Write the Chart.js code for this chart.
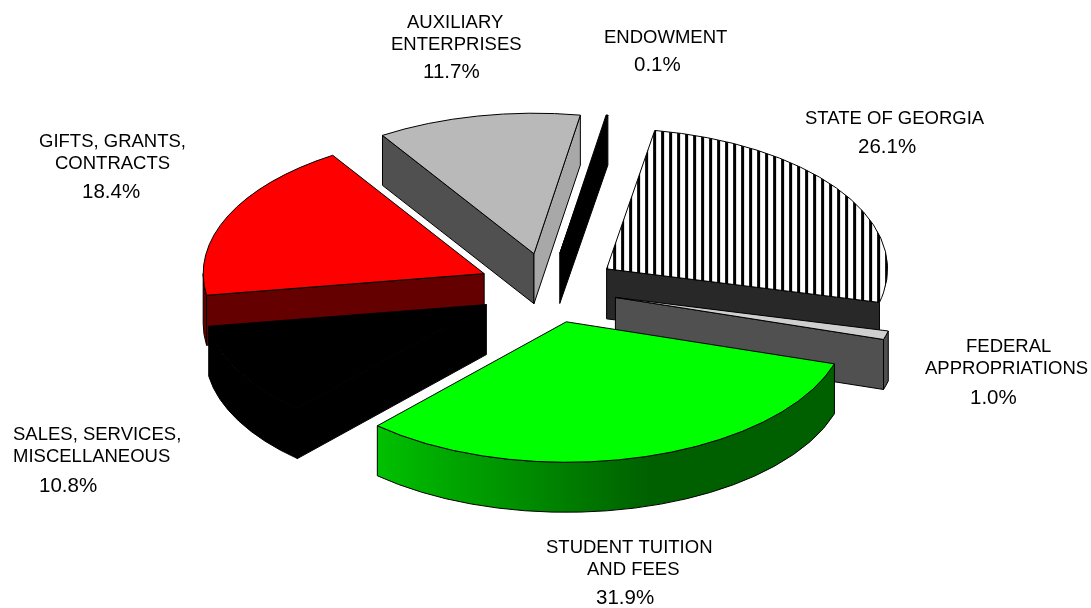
<!DOCTYPE html>
<html>
<head>
<meta charset="utf-8">
<style>
  html, body { margin: 0; padding: 0; background: #fff; }
  #wrap { position: relative; width: 1091px; height: 608px; }
</style>
<script src="https://cdn.jsdelivr.net/npm/chart.js@4"></script>
</head>
<body>
<div id="wrap"><canvas id="pie3d" width="1091" height="608"></canvas></div>
<script>
// same order as the slices run clockwise
const categories = ['ENDOWMENT', 'STATE OF GEORGIA', 'FEDERAL APPROPRIATIONS', 'STUDENT TUITION AND FEES',
                    'SALES, SERVICES, MISCELLANEOUS', 'GIFTS, GRANTS, CONTRACTS', 'AUXILIARY ENTERPRISES'];
const percents = [0.1, 26.1, 1.0, 31.9, 10.8, 18.4, 11.7];

// slice colours
const topColors = ['#000000', 'stripes', '#cfcfcf', '#00ff00', '#000000', '#ff0000', '#b9b9b9'];
const sideColors = ['#000000', '#282828', '#505050', 'rim', '#000000', '#640000', '#505050'];
const endFaceColors = ['#000000', '#282828', '#505050', '#006000', '#000000', '#640000', '#a8a8a8'];

// back to front
const paintOrder = [6, 0, 1, 5, 4, 2, 3];

// label text, one entry per line: text, x, baseline y, size
const labelLines = [
  ['AUXILIARY', 407, 28, 18.5], ['ENTERPRISES', 391, 50, 18.5], ['11.7%', 423, 78, 20.5],
  ['ENDOWMENT', 604, 43, 18.5], ['0.1%', 634, 71, 20.5],
  ['STATE OF GEORGIA', 805, 124, 18.5], ['26.1%', 858, 153, 20.5],
  ['FEDERAL', 966, 352, 18.5], ['APPROPRIATIONS', 925, 374, 18.5], ['1.0%', 970, 404, 20.5],
  ['STUDENT TUITION', 546, 553, 18.5], ['AND FEES', 587, 575, 18.5], ['31.9%', 596, 604, 20.5],
  ['SALES, SERVICES,', 13, 440, 18.5], ['MISCELLANEOUS', 13, 462, 18.5], ['10.8%', 39, 492, 20.5],
  ['GIFTS, GRANTS,', 39, 147, 18.5], ['CONTRACTS', 55, 169, 18.5], ['18.4%', 82, 198, 20.5]
];

const centerX = 548, centerY = 288;
const squash = 0.5;
const explode = 70;
const depth = 50;

function stripePattern(ctx) {
  const c = document.createElement('canvas');
  c.width = 8; c.height = 8;
  const p = c.getContext('2d');
  p.fillStyle = '#ffffff';
  p.fillRect(0, 0, 8, 8);
  p.fillStyle = '#000000';
  p.fillRect(0, 0, 3, 8);
  return ctx.createPattern(c, 'repeat');
}

// where a slice's apex ends up on the page
function apexOf(arc) {
  const mid = (arc.startAngle + arc.endAngle) / 2;
  return {x: centerX + Math.cos(mid) * explode, y: centerY + Math.sin(mid) * explode * squash};
}

function edgePoint(apex, radius, angle) {
  return {x: apex.x + Math.cos(angle) * radius, y: apex.y + Math.sin(angle) * radius * squash};
}

function drawFace(ctx, apex, tip, color) {
  ctx.beginPath();
  ctx.moveTo(apex.x, apex.y);
  ctx.lineTo(tip.x, tip.y);
  ctx.lineTo(tip.x, tip.y + depth);
  ctx.lineTo(apex.x, apex.y + depth);
  ctx.closePath();
  ctx.fillStyle = color;
  ctx.fill();
  ctx.stroke();
}

function drawRim(ctx, apex, arc, color) {
  // the curved wall only shows on the lower half of the ellipse
  const t = Math.PI * 2;
  const from = ((arc.startAngle % t) + t) % t;
  const to = Math.min(from + (arc.endAngle - arc.startAngle), Math.PI);
  if (to <= from) return;
  const R = arc.outerRadius;
  ctx.beginPath();
  ctx.ellipse(apex.x, apex.y, R, R * squash, 0, from, to);
  ctx.ellipse(apex.x, apex.y + depth, R, R * squash, 0, to, from, true);
  ctx.closePath();
  if (color === 'rim') {
    const g = ctx.createLinearGradient(apex.x - R * 0.67, 0, apex.x + R * 0.3, 0);
    g.addColorStop(0, '#00c000');
    g.addColorStop(1, '#006000');
    ctx.fillStyle = g;
  } else {
    ctx.fillStyle = color;
  }
  ctx.fill();
  ctx.stroke();
}

const pie3d = {
  id: 'pie3d',
  beforeDatasetsDraw(chart) {
    const ctx = chart.ctx;
    const arcs = chart.getDatasetMeta(0).data;
    ctx.save();
    ctx.lineWidth = 1;
    ctx.lineJoin = 'round';
    ctx.strokeStyle = '#000000';
    paintOrder.forEach(i => {
      const arc = arcs[i];
      const apex = apexOf(arc);
      const R = arc.outerRadius;

      if (Math.cos(arc.startAngle) < 0) {
        drawFace(ctx, apex, edgePoint(apex, R, arc.startAngle), sideColors[i] === 'rim' ? endFaceColors[i] : sideColors[i]);
      }
      if (Math.cos(arc.endAngle) > 0) {
        drawFace(ctx, apex, edgePoint(apex, R, arc.endAngle), endFaceColors[i]);
      }
      drawRim(ctx, apex, arc, sideColors[i]);

      // top of the slice: the library's own arc, squashed and pushed out
      ctx.save();
      ctx.translate(apex.x, apex.y);
      ctx.scale(1, squash);
      ctx.translate(-arc.x, -arc.y);
      arc.draw(ctx);
      ctx.restore();

      ctx.beginPath();
      ctx.moveTo(apex.x, apex.y);
      ctx.ellipse(apex.x, apex.y, R, R * squash, 0, arc.startAngle, arc.endAngle);
      ctx.closePath();
      ctx.stroke();
    });
    ctx.restore();
    return false;
  },
  afterDraw(chart) {
    const ctx = chart.ctx;
    ctx.save();
    ctx.fillStyle = '#000000';
    ctx.textAlign = 'left';
    ctx.textBaseline = 'alphabetic';
    labelLines.forEach(([text, x, y, size]) => {
      ctx.font = size + 'px "Liberation Sans"';
      ctx.fillText(text, x, y);
    });
    ctx.restore();
  }
};

const canvas = document.getElementById('pie3d');
const ctx2d = canvas.getContext('2d');

new Chart(ctx2d, {
  type: 'pie',
  data: {
    labels: categories,
    datasets: [{
      data: percents,
      backgroundColor: topColors.map(c => c === 'stripes' ? stripePattern(ctx2d) : c),
      borderWidth: 0
    }]
  },
  options: {
    responsive: false,
    animation: false,
    events: [],
    rotation: 9.5,
    radius: 281,
    layout: {padding: 0},
    plugins: {
      legend: {display: false},
      tooltip: {enabled: false}
    }
  },
  plugins: [pie3d]
});
</script>
</body>
</html>
